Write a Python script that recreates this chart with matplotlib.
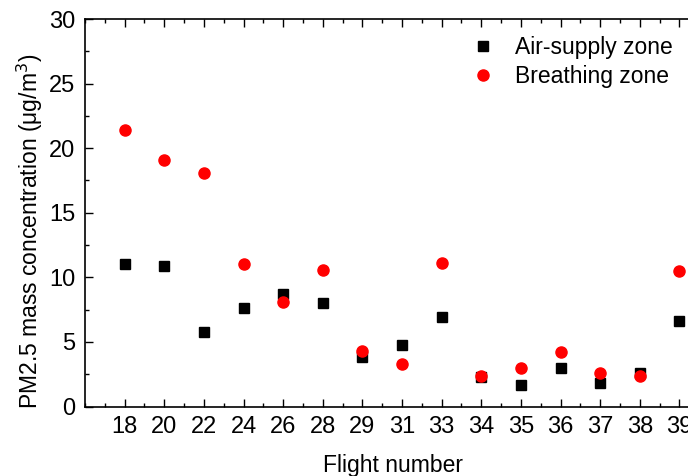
import numpy as np
import matplotlib.pyplot as plt
from matplotlib.ticker import MultipleLocator

plt.rcParams['font.family'] = ['Liberation Sans', 'DejaVu Sans']

flights = ["18", "20", "22", "24", "26", "28", "29", "31", "33", "34", "35", "36", "37", "38", "39"]
air_supply = [11.0, 10.9, 5.8, 7.6, 8.7, 8.0, 3.8, 4.8, 6.9, 2.3, 1.7, 3.0, 1.8, 2.6, 6.6]
breathing = [21.4, 19.1, 18.1, 11.0, 8.1, 10.6, 4.3, 3.3, 11.1, 2.4, 3.0, 4.2, 2.6, 2.4, 10.5]

x = np.arange(1, len(flights) + 1)

fig = plt.figure(figsize=(6.88, 4.76), dpi=100)
# axes runs past the right edge, like the cropped original
ax = fig.add_axes([85 / 688, (476 - 406.5) / 476, (719 - 85) / 688, (406.5 - 19) / 476])

ax.plot(x, air_supply, 's', color='black', markersize=7, label='Air-supply zone')
ax.plot(x, breathing, 'o', color='red', markersize=8, label='Breathing zone')

ax.set_xlim(0, 16)
ax.set_ylim(0, 30)
ax.set_xticks(x)
ax.set_xticklabels(flights)
ax.xaxis.set_minor_locator(MultipleLocator(0.5))
ax.yaxis.set_major_locator(MultipleLocator(5))
ax.yaxis.set_minor_locator(MultipleLocator(2.5))

ax.tick_params(which='both', direction='in', top=True, right=True, labelsize=17, width=1)
ax.tick_params(which='major', length=6, pad=7)
ax.tick_params(which='minor', length=3)
for s in ax.spines.values():
    s.set_linewidth(1.2)

ax.set_xlabel("Flight number", fontsize=16.5)
ax.set_ylabel("PM2.5 mass concentration (μg/m$^3$)", fontsize=16.5)
ax.xaxis.set_label_coords(0.486, -0.122)
ax.yaxis.set_label_coords(-0.063, 0.453)

ax.legend(loc='upper left', bbox_to_anchor=(0.562, 1.015), frameon=False, fontsize=16.5,
          handletextpad=0.6, handlelength=1.6, labelspacing=0.25, borderpad=0.5)

fig.savefig("out.png", dpi=100)
